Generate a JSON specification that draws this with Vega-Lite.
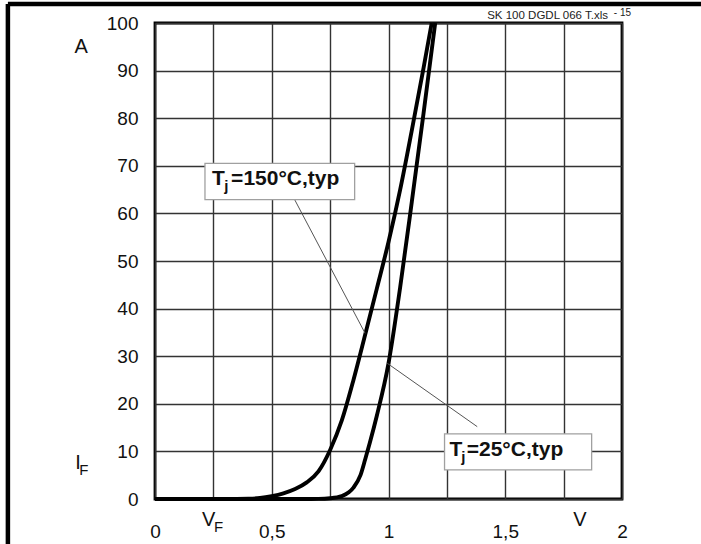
{
  "$schema": "https://vega.github.io/schema/vega-lite/v6.json",
  "width": 467,
  "height": 476,
  "autosize": "none",
  "padding": {"left": 155, "top": 23, "right": 79, "bottom": 45},
  "background": "white",
  "config": {"view": {"stroke": "#000", "strokeWidth": 2.8}, "font": "Liberation Sans"},
  "datasets": {
    "curves": [
      {"t": "150", "v": 0, "i": 0}, {"t": "150", "v": 0.3, "i": 0}, {"t": "150", "v": 0.4, "i": 0.05},
      {"t": "150", "v": 0.45, "i": 0.2}, {"t": "150", "v": 0.5, "i": 0.6}, {"t": "150", "v": 0.55, "i": 1.2},
      {"t": "150", "v": 0.6, "i": 2.1}, {"t": "150", "v": 0.65, "i": 3.5}, {"t": "150", "v": 0.7, "i": 5.8},
      {"t": "150", "v": 0.75, "i": 10.3}, {"t": "150", "v": 0.8, "i": 16.5}, {"t": "150", "v": 0.85, "i": 25},
      {"t": "150", "v": 0.9, "i": 34.5}, {"t": "150", "v": 0.95, "i": 44.2}, {"t": "150", "v": 1.0, "i": 54},
      {"t": "150", "v": 1.05, "i": 65}, {"t": "150", "v": 1.1, "i": 77.5}, {"t": "150", "v": 1.15, "i": 90.5},
      {"t": "150", "v": 1.185, "i": 100},
      {"t": "25", "v": 0, "i": 0}, {"t": "25", "v": 0.6, "i": 0}, {"t": "25", "v": 0.7, "i": 0.03},
      {"t": "25", "v": 0.75, "i": 0.15}, {"t": "25", "v": 0.8, "i": 0.6}, {"t": "25", "v": 0.83, "i": 1.4},
      {"t": "25", "v": 0.85, "i": 2.4}, {"t": "25", "v": 0.88, "i": 5.0}, {"t": "25", "v": 0.9, "i": 8.3},
      {"t": "25", "v": 0.92, "i": 11.8}, {"t": "25", "v": 0.95, "i": 17.5}, {"t": "25", "v": 1.0, "i": 28.5},
      {"t": "25", "v": 1.05, "i": 44.5}, {"t": "25", "v": 1.1, "i": 62.5}, {"t": "25", "v": 1.15, "i": 81},
      {"t": "25", "v": 1.2, "i": 100}
    ],
    "leaders": [
      {"v": 0.598, "i": 62.9, "v2": 0.9, "i2": 34.8},
      {"v": 0.995, "i": 28.5, "v2": 1.38, "i2": 15.2}
    ],
    "boxes": [
      {"v": 0.214, "v2": 0.855, "i": 62.9, "i2": 70.5},
      {"v": 1.24, "v2": 1.87, "i": 6.1, "i2": 13.7}
    ],
    "boxT": [
      {"v": 0.244, "i": 65.9, "txt": "T"},
      {"v": 0.326, "i": 65.9, "txt": "=150°C,typ"},
      {"v": 1.261, "i": 9.05, "txt": "T"},
      {"v": 1.335, "i": 9.05, "txt": "=25°C,typ"}
    ],
    "boxSub": [
      {"v": 0.297, "i": 64.7, "txt": "j"},
      {"v": 1.312, "i": 7.85, "txt": "j"}
    ],
    "units": [
      {"v": -0.316, "i": 95, "txt": "A"},
      {"v": -0.33, "i": 7.5, "txt": "I"},
      {"v": 0.23, "i": -4.4, "txt": "V"},
      {"v": 1.82, "i": -4.4, "txt": "V"}
    ],
    "unitSub": [
      {"v": -0.305, "i": 6.0, "txt": "F"},
      {"v": 0.272, "i": -5.8, "txt": "F"}
    ],
    "header": [
      {"v": 1.94, "i": 100.8, "txt": "SK 100 DGDL 066 T.xls"}
    ],
    "headerSup": [
      {"v": 1.965, "i": 101.4, "txt": "- 15"}
    ],
    "frame": [
      {"v": -0.63, "i": 104, "v2": 2.45, "i2": 104},
      {"v": -0.63, "i": 104, "v2": -0.63, "i2": -12}
    ]
  },
  "layer": [
    {
      "data": {"name": "curves"},
      "mark": {"type": "line", "stroke": "#000", "strokeWidth": 3.9, "interpolate": "monotone"},
      "encoding": {
        "x": {
          "field": "v", "type": "quantitative",
          "scale": {"domain": [0, 2], "nice": false, "zero": false},
          "axis": {
            "title": null,
            "values": [0, 0.25, 0.5, 0.75, 1, 1.25, 1.5, 1.75, 2],
            "format": "~g",
            "labelExpr": "datum.value % 0.5 == 0 ? replace(datum.label, '.', ',') : ''",
            "grid": true, "gridColor": "#333", "gridWidth": 1.4, "gridOpacity": 1,
            "ticks": false, "domain": false,
            "labelFontSize": 19, "labelColor": "#111", "labelPadding": 23,
            "labelFlush": false, "labelOverlap": false
          }
        },
        "y": {
          "field": "i", "type": "quantitative",
          "scale": {"domain": [0, 100], "nice": false, "zero": false},
          "axis": {
            "title": null,
            "values": [0, 5, 10, 15, 20, 25, 30, 35, 40, 45, 50, 55, 60, 65, 70, 75, 80, 85, 90, 95, 100],
            "labelExpr": "datum.value % 10 == 0 ? datum.label : ''",
            "grid": true, "gridColor": "#333", "gridWidth": 1.4, "gridOpacity": 1,
            "ticks": false, "domain": false,
            "labelFontSize": 19, "labelColor": "#111", "labelPadding": 17,
            "labelFlush": false, "labelOverlap": false
          }
        },
        "detail": {"field": "t"}
      }
    },
    {
      "data": {"name": "leaders"},
      "mark": {"type": "rule", "stroke": "#555", "strokeWidth": 1},
      "encoding": {
        "x": {"field": "v", "type": "quantitative"},
        "y": {"field": "i", "type": "quantitative"},
        "x2": {"field": "v2"},
        "y2": {"field": "i2"}
      }
    },
    {
      "data": {"name": "boxes"},
      "mark": {"type": "rect", "fill": "#fff", "stroke": "#a0a0a0", "strokeWidth": 1.3},
      "encoding": {
        "x": {"field": "v", "type": "quantitative"},
        "x2": {"field": "v2"},
        "y": {"field": "i", "type": "quantitative"},
        "y2": {"field": "i2"}
      }
    },
    {
      "data": {"name": "boxT"},
      "mark": {"type": "text", "fontSize": 21, "fontWeight": "bold", "align": "left", "baseline": "alphabetic", "color": "#111"},
      "encoding": {
        "x": {"field": "v", "type": "quantitative"},
        "y": {"field": "i", "type": "quantitative"},
        "text": {"field": "txt"}
      }
    },
    {
      "data": {"name": "boxSub"},
      "mark": {"type": "text", "fontSize": 15, "fontWeight": "bold", "align": "left", "baseline": "alphabetic", "color": "#111"},
      "encoding": {
        "x": {"field": "v", "type": "quantitative"},
        "y": {"field": "i", "type": "quantitative"},
        "text": {"field": "txt"}
      }
    },
    {
      "data": {"name": "units"},
      "mark": {"type": "text", "fontSize": 20, "align": "center", "baseline": "middle", "color": "#111"},
      "encoding": {
        "x": {"field": "v", "type": "quantitative"},
        "y": {"field": "i", "type": "quantitative"},
        "text": {"field": "txt"}
      }
    },
    {
      "data": {"name": "unitSub"},
      "mark": {"type": "text", "fontSize": 15, "align": "center", "baseline": "middle", "color": "#111"},
      "encoding": {
        "x": {"field": "v", "type": "quantitative"},
        "y": {"field": "i", "type": "quantitative"},
        "text": {"field": "txt"}
      }
    },
    {
      "data": {"name": "header"},
      "mark": {"type": "text", "fontSize": 11.5, "align": "right", "baseline": "alphabetic", "color": "#222"},
      "encoding": {
        "x": {"field": "v", "type": "quantitative"},
        "y": {"field": "i", "type": "quantitative"},
        "text": {"field": "txt"}
      }
    },
    {
      "data": {"name": "headerSup"},
      "mark": {"type": "text", "fontSize": 10, "align": "left", "baseline": "alphabetic", "color": "#222"},
      "encoding": {
        "x": {"field": "v", "type": "quantitative"},
        "y": {"field": "i", "type": "quantitative"},
        "text": {"field": "txt"}
      }
    },
    {
      "data": {"name": "frame"},
      "mark": {"type": "rule", "stroke": "#000", "strokeWidth": 4.5},
      "encoding": {
        "x": {"field": "v", "type": "quantitative"},
        "y": {"field": "i", "type": "quantitative"},
        "x2": {"field": "v2"},
        "y2": {"field": "i2"}
      }
    }
  ]
}
